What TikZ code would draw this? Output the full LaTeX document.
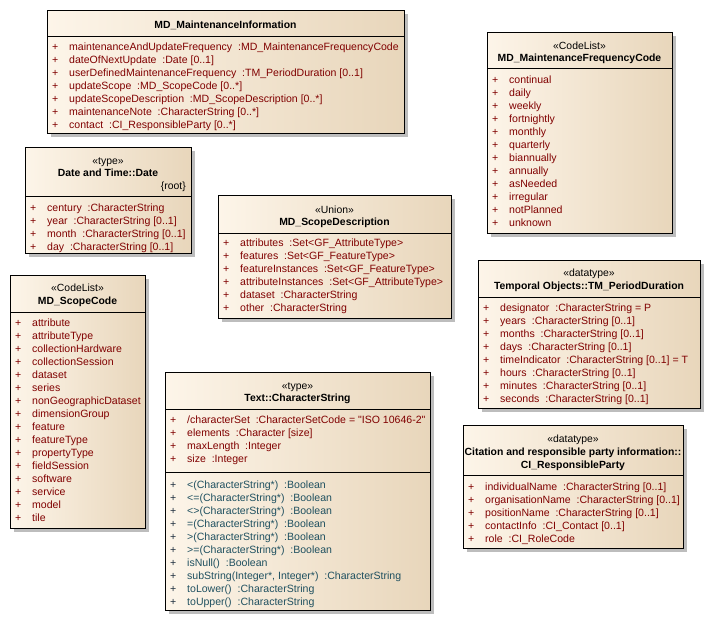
\documentclass[tikz,border=0pt]{standalone}
\usepackage{fontspec}
\newfontfamily\uml{Liberation Sans}
\definecolor{attrc}{HTML}{800000}
\definecolor{opc}{HTML}{1F5060}
\definecolor{opplus}{HTML}{203040}
\definecolor{boxl}{HTML}{FDF5E9}
\definecolor{boxr}{HTML}{E8D6BB}
\definecolor{shadowc}{HTML}{BDBDBD}
\tikzset{
  umlshadow/.style={fill=shadowc},
  umlbody/.style={draw=black, line width=0.9pt, left color=boxl, right color=boxr, inner sep=0pt, outer sep=0pt},
  umlline/.style={draw=black, line width=0.9pt},
  item/.style={anchor=base west, inner sep=0pt, font=\uml\fontsize{10.55}{12}\selectfont},
  hdr/.style={anchor=base, inner sep=0pt, font=\uml\fontsize{10.4}{12}\selectfont},
  hdrb/.style={hdr, font=\uml\bfseries\fontsize{10.4}{12}\selectfont},
}
% box: name, x1, y1, x2, y2
\newcommand\umlbox[5]{%
  \fill[umlshadow] (#2+4,#3+4) rectangle (#4+4,#5+4);
  \node[umlbody, anchor=north west, minimum width={(#4-#2)*1pt}, minimum height={(#5-#3)*1pt}] (#1) at (#2,#3) {};
}
% separator: box, y
\newcommand\umlsep[2]{\draw[umlline] (#1.west |- 0,#2) -- (#1.east |- 0,#2);}
% items: box name, left x, first centre y, text colour, plus colour, list
\newcommand\umlitems[6]{%
  \foreach \t [count=\i from 0] in {#6} {
    \node[item, text=#5] (#1-p\i) at (#2+5, #3+4+13*\i) {+};
    \node[item, text=#4] (#1-t\i) at (#2+22, #3+4+13*\i) {\t};
  }
}
\begin{document}
\begin{tikzpicture}[x=1pt,y=-1pt]
\fill[white] (0,0) rectangle (707,638);
\useasboundingbox (0,0) rectangle (707,638);

% MD_MaintenanceInformation
\umlbox{MI}{47}{10}{404}{133}
\node[hdrb] (MI-n) at (MI.north |- 0,28) {MD\_MaintenanceInformation};
\umlsep{MI}{36}
\umlitems{MI}{47}{46}{attrc}{attrc}{
 maintenanceAndUpdateFrequency~~:MD\_MaintenanceFrequencyCode,
 dateOfNextUpdate~~:Date [0..1],
 userDefinedMaintenanceFrequency~~:TM\_PeriodDuration [0..1],
 updateScope~~:MD\_ScopeCode [0..*],
 updateScopeDescription~~:MD\_ScopeDescription [0..*],
 maintenanceNote~~:CharacterString [0..*],
 contact~~:CI\_ResponsibleParty [0..*]}

% MD_MaintenanceFrequencyCode
\umlbox{FC}{487}{32}{672}{233}
\node[hdr] (FC-s) at (FC.north |- 0,49) {«CodeList»};
\node[hdrb] (FC-n) at (FC.north |- 0,61) {MD\_MaintenanceFrequencyCode};
\umlsep{FC}{68}
\umlitems{FC}{487}{79}{attrc}{attrc}{continual,daily,weekly,fortnightly,monthly,quarterly,biannually,annually,asNeeded,irregular,notPlanned,unknown}

% Date and Time::Date
\umlbox{DT}{25}{147}{191}{253}
\node[hdr] (DT-s) at (DT.north |- 0,164) {«type»};
\node[hdrb] (DT-n) at (DT.north |- 0,176) {Date and Time::Date};
\node[hdr, anchor=base east] (DT-r) at (186,189) {\{root\}};
\umlsep{DT}{196}
\umlitems{DT}{25}{207}{attrc}{attrc}{
 century~~:CharacterString,
 year~~:CharacterString [0..1],
 month~~:CharacterString [0..1],
 day~~:CharacterString [0..1]}

% MD_ScopeDescription
\umlbox{SD}{218}{195}{451}{318}
\node[hdr] (SD-s) at (SD.north |- 0,213) {«Union»};
\node[hdrb] (SD-n) at (SD.north |- 0,225) {MD\_ScopeDescription};
\umlsep{SD}{233}
\umlitems{SD}{218}{242}{attrc}{attrc}{
 attributes~~:Set<GF\_AttributeType>,
 features~~:Set<GF\_FeatureType>,
 featureInstances~~:Set<GF\_FeatureType>,
 attributeInstances~~:Set<GF\_AttributeType>,
 dataset~~:CharacterString,
 other~~:CharacterString}

% MD_ScopeCode
\umlbox{SC}{10}{275}{145}{528}
\node[hdr] (SC-s) at (SC.north |- 0,291) {«CodeList»};
\node[hdrb] (SC-n) at (SC.north |- 0,304) {MD\_ScopeCode};
\umlsep{SC}{312}
\umlitems{SC}{10}{322}{attrc}{attrc}{attribute,attributeType,collectionHardware,collectionSession,dataset,series,nonGeographicDataset,dimensionGroup,feature,featureType,propertyType,fieldSession,software,service,model,tile}

% Text::CharacterString
\umlbox{CS}{165}{372}{430}{610}
\node[hdr] (CS-s) at (CS.north |- 0,389) {«type»};
\node[hdrb] (CS-n) at (CS.north |- 0,401) {Text::CharacterString};
\umlsep{CS}{409}
\umlitems{CSa}{165}{419}{attrc}{attrc}{
 /characterSet~~:CharacterSetCode = "ISO 10646-2",
 elements~~:Character [size],
 maxLength~~:Integer,
 size~~:Integer}
\umlsep{CS}{472}
\umlitems{CSo}{165}{484}{opc}{opplus}{
 <(CharacterString*)~~:Boolean,
 <=(CharacterString*)~~:Boolean,
 <>(CharacterString*)~~:Boolean,
 =(CharacterString*)~~:Boolean,
 >(CharacterString*)~~:Boolean,
 >=(CharacterString*)~~:Boolean,
 isNull()~~:Boolean,
 {subString(Integer*, Integer*)~~:CharacterString},
 toLower()~~:CharacterString,
 toUpper()~~:CharacterString}

% Temporal Objects::TM_PeriodDuration
\umlbox{TM}{478}{260}{700}{408}
\node[hdr] (TM-s) at (TM.north |- 0,276) {«datatype»};
\node[hdrb] (TM-n) at (TM.north |- 0,289) {Temporal Objects::TM\_PeriodDuration};
\umlsep{TM}{297}
\umlitems{TM}{478}{307}{attrc}{attrc}{
 designator~~:CharacterString = P,
 years~~:CharacterString [0..1],
 months~~:CharacterString [0..1],
 days~~:CharacterString [0..1],
 timeIndicator~~:CharacterString [0..1] = T,
 hours~~:CharacterString [0..1],
 minutes~~:CharacterString [0..1],
 seconds~~:CharacterString [0..1]}

% CI_ResponsibleParty
\umlbox{CI}{463}{425}{683}{548}
\node[hdr] (CI-s) at (CI.north |- 0,442) {«datatype»};
\node[hdrb] (CI-n1) at (CI.north |- 0,455) {Citation and responsible party information::};
\node[hdrb] (CI-n2) at (CI.north |- 0,468) {CI\_ResponsibleParty};
\umlsep{CI}{475}
\umlitems{CI}{463}{486}{attrc}{attrc}{
 individualName~~:CharacterString [0..1],
 organisationName~~:CharacterString [0..1],
 positionName~~:CharacterString [0..1],
 contactInfo~~:CI\_Contact [0..1],
 role~~:CI\_RoleCode}
\end{tikzpicture}
\end{document}
